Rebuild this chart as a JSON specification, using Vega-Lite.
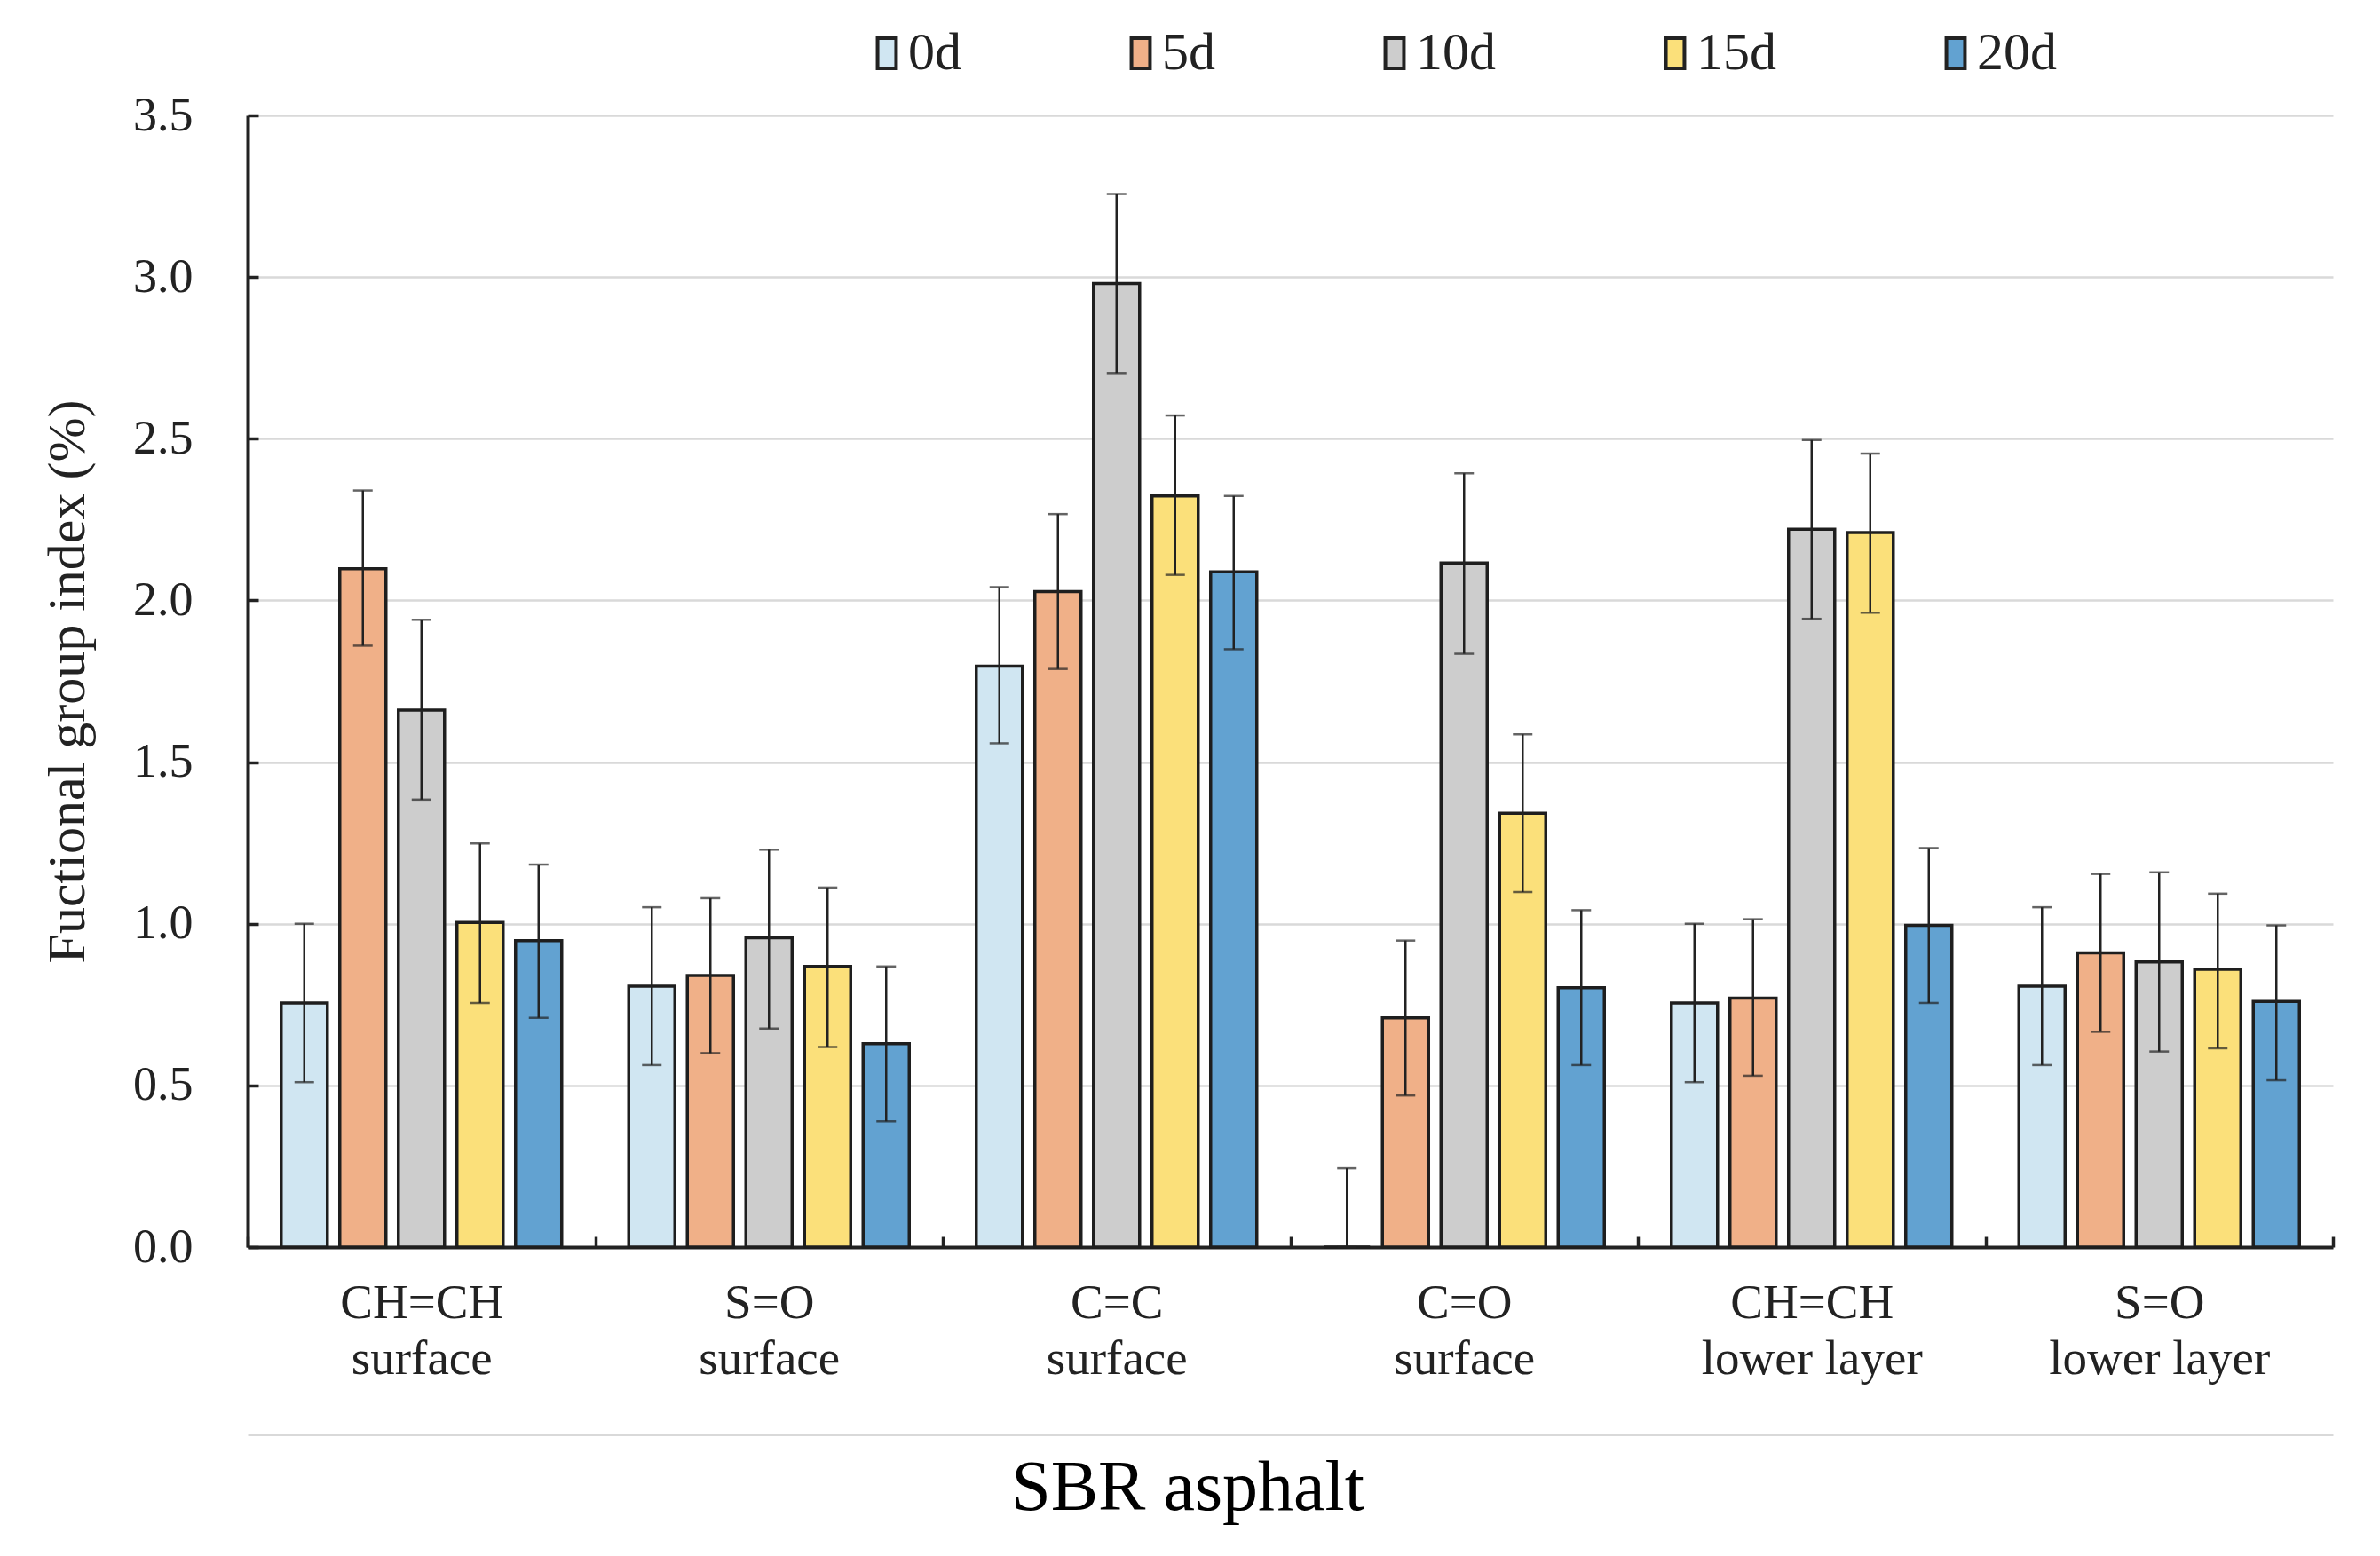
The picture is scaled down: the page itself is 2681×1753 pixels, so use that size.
{
  "$schema": "https://vega.github.io/schema/vega-lite/v6.json",
  "width": 2349,
  "height": 1275,
  "autosize": {"type": "none"},
  "padding": {"left": 279, "top": 130, "right": 53, "bottom": 348},
  "background": "white",
  "title": {
    "text": "SBR asphalt",
    "orient": "bottom",
    "anchor": "middle",
    "frame": "bounds",
    "offset": 22,
    "font": "Liberation Serif",
    "fontSize": 80,
    "fontWeight": "normal",
    "color": "#000000"
  },
  "data": {
    "values": [
      {"group": "CH=CH|surface", "series": "0d", "value": 0.755, "lo": 0.51, "hi": 1.0},
      {"group": "CH=CH|surface", "series": "5d", "value": 2.098, "lo": 1.86, "hi": 2.34},
      {"group": "CH=CH|surface", "series": "10d", "value": 1.661, "lo": 1.384, "hi": 1.94},
      {"group": "CH=CH|surface", "series": "15d", "value": 1.004, "lo": 0.755, "hi": 1.248},
      {"group": "CH=CH|surface", "series": "20d", "value": 0.948, "lo": 0.709, "hi": 1.183},
      {"group": "S=O|surface", "series": "0d", "value": 0.807, "lo": 0.563, "hi": 1.051},
      {"group": "S=O|surface", "series": "5d", "value": 0.84, "lo": 0.6, "hi": 1.079},
      {"group": "S=O|surface", "series": "10d", "value": 0.957, "lo": 0.676, "hi": 1.229},
      {"group": "S=O|surface", "series": "15d", "value": 0.868, "lo": 0.619, "hi": 1.112},
      {"group": "S=O|surface", "series": "20d", "value": 0.629, "lo": 0.389, "hi": 0.868},
      {"group": "C=C|surface", "series": "0d", "value": 1.797, "lo": 1.558, "hi": 2.041},
      {"group": "C=C|surface", "series": "5d", "value": 2.027, "lo": 1.788, "hi": 2.267},
      {"group": "C=C|surface", "series": "10d", "value": 2.98, "lo": 2.703, "hi": 3.257},
      {"group": "C=C|surface", "series": "15d", "value": 2.323, "lo": 2.079, "hi": 2.572},
      {"group": "C=C|surface", "series": "20d", "value": 2.088, "lo": 1.849, "hi": 2.323},
      {"group": "C=O|surface", "series": "0d", "value": 0, "lo": 0, "hi": 0.244},
      {"group": "C=O|surface", "series": "5d", "value": 0.709, "lo": 0.469, "hi": 0.948},
      {"group": "C=O|surface", "series": "10d", "value": 2.116, "lo": 1.835, "hi": 2.393},
      {"group": "C=O|surface", "series": "15d", "value": 1.342, "lo": 1.098, "hi": 1.586},
      {"group": "C=O|surface", "series": "20d", "value": 0.802, "lo": 0.563, "hi": 1.042},
      {"group": "CH=CH|lower layer", "series": "0d", "value": 0.755, "lo": 0.51, "hi": 1.0},
      {"group": "CH=CH|lower layer", "series": "5d", "value": 0.77, "lo": 0.53, "hi": 1.014},
      {"group": "CH=CH|lower layer", "series": "10d", "value": 2.22, "lo": 1.943, "hi": 2.496},
      {"group": "CH=CH|lower layer", "series": "15d", "value": 2.21, "lo": 1.962, "hi": 2.454},
      {"group": "CH=CH|lower layer", "series": "20d", "value": 0.995, "lo": 0.755, "hi": 1.234},
      {"group": "S=O|lower layer", "series": "0d", "value": 0.807, "lo": 0.563, "hi": 1.051},
      {"group": "S=O|lower layer", "series": "5d", "value": 0.91, "lo": 0.666, "hi": 1.154},
      {"group": "S=O|lower layer", "series": "10d", "value": 0.882, "lo": 0.605, "hi": 1.159},
      {"group": "S=O|lower layer", "series": "15d", "value": 0.859, "lo": 0.615, "hi": 1.093},
      {"group": "S=O|lower layer", "series": "20d", "value": 0.76, "lo": 0.516, "hi": 0.995}
    ]
  },
  "layer": [
    {
      "mark": {"type": "bar", "stroke": "#1e1e1e", "strokeWidth": 3.5},
      "encoding": {
        "x": {
          "field": "group", "type": "nominal", "sort": null,
          "scale": {"paddingInner": 0, "paddingOuter": 0},
          "axis": {
            "title": null, "labelAngle": 0, "labelLimit": 0,
            "labelExpr": "split(datum.label, '|')",
            "labelFont": "Liberation Serif", "labelFontSize": 55, "labelColor": "#222222",
            "labelLineHeight": 63, "labelBaseline": "top", "labelPadding": 48,
            "tickBand": "extent", "tickSize": -12, "tickWidth": 3.5, "tickColor": "#222222",
            "domainColor": "#222222", "domainWidth": 4, "grid": false
          }
        },
        "xOffset": {
          "field": "series", "type": "nominal", "sort": null,
          "scale": {"paddingInner": 0.212, "paddingOuter": 0.572}
        },
        "y": {
          "field": "value", "type": "quantitative",
          "scale": {"domain": [0, 3.5]},
          "axis": {
            "title": "Fuctional group index (%)",
            "titleFont": "Liberation Serif", "titleFontSize": 60, "titleFontWeight": "normal",
            "titleColor": "#222222", "titlePadding": 42,
            "values": [0, 0.5, 1, 1.5, 2, 2.5, 3, 3.5], "format": ".1f",
            "labelFont": "Liberation Serif", "labelFontSize": 54, "labelColor": "#222222",
            "labelPadding": 74, "tickSize": -12, "tickWidth": 3.5, "tickColor": "#222222",
            "domainColor": "#222222", "domainWidth": 4,
            "grid": true, "gridColor": "#d9d9d9", "gridWidth": 2.5
          }
        },
        "color": {
          "field": "series", "type": "nominal", "sort": null,
          "scale": {"range": ["#d0e6f2", "#f0b088", "#cdcdcd", "#fbe07a", "#62a2d1"]},
          "legend": {
            "title": null, "orient": "none", "legendX": 690, "legendY": -100,
            "direction": "horizontal", "padding": 0,
            "symbolType": "M-0.55,-0.9H0.55V0.9H-0.55Z", "symbolSize": 1444,
            "symbolStrokeColor": "#222222", "symbolStrokeWidth": 4, "symbolOpacity": 1,
            "labelFont": "Liberation Serif", "labelFontSize": 60, "labelColor": "#222222",
            "labelOffset": -6, "columnPadding": 172
          }
        }
      }
    },
    {
      "mark": {"type": "rule", "color": "#222222", "strokeWidth": 2.5},
      "encoding": {
        "x": {
          "field": "group", "type": "nominal", "sort": null,
          "axis": {
            "orient": "bottom", "offset": 211, "domainColor": "#d9d9d9", "domainWidth": 3,
            "ticks": false, "labels": false, "title": null, "grid": false
          }
        },
        "xOffset": {"field": "series", "type": "nominal", "sort": null},
        "y": {"field": "lo", "type": "quantitative", "scale": {"domain": [0, 3.5]}},
        "y2": {"field": "hi"}
      }
    },
    {
      "mark": {"type": "tick", "color": "#222222", "thickness": 2.5, "size": 22},
      "encoding": {
        "x": {"field": "group", "type": "nominal", "sort": null, "axis": null},
        "xOffset": {"field": "series", "type": "nominal", "sort": null},
        "y": {"field": "lo", "type": "quantitative", "scale": {"domain": [0, 3.5]}}
      }
    },
    {
      "mark": {"type": "tick", "color": "#222222", "thickness": 2.5, "size": 22},
      "encoding": {
        "x": {"field": "group", "type": "nominal", "sort": null, "axis": null},
        "xOffset": {"field": "series", "type": "nominal", "sort": null},
        "y": {"field": "hi", "type": "quantitative", "scale": {"domain": [0, 3.5]}}
      }
    }
  ],
  "resolve": {"axis": {"x": "independent"}},
  "config": {
    "view": {"stroke": null}
  }
}
